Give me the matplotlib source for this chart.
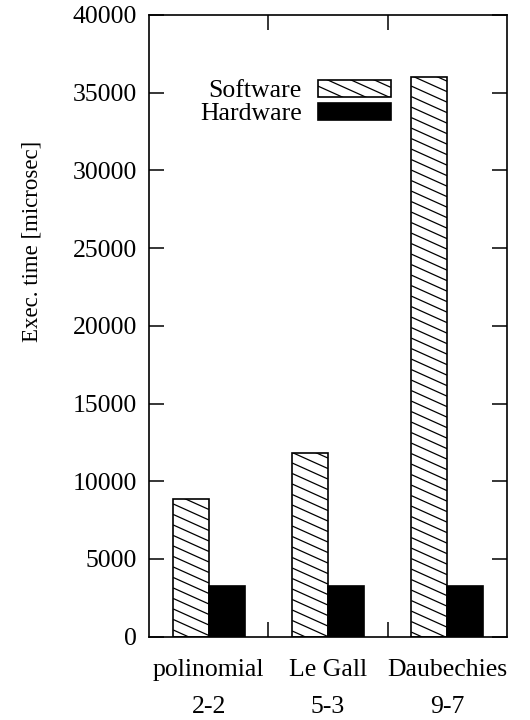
import matplotlib
matplotlib.use("Agg")
import matplotlib.pyplot as plt
import numpy as np
from matplotlib.collections import LineCollection
from matplotlib.patches import Patch
from matplotlib.transforms import IdentityTransform

plt.rcParams["font.family"] = ["Liberation Serif", "DejaVu Serif"]

methods = ["polinomial\n2-2", "Le Gall\n5-3", "Daubechies\n9-7"]
series = ["Software", "Hardware"]
software = [8850, 11850, 36000]
hardware = [3250, 3250, 3250]

fig = plt.figure(figsize=(5.3, 7.2), dpi=100)
ax = fig.add_axes([0.2817, 0.1157, 0.6743, 0.8635])

x = np.arange(len(methods))
w = 0.3
sw_bars = ax.bar(x - w / 2, software, w, color="white", edgecolor="black", linewidth=1.2)
hw_bars = ax.bar(x + w / 2, hardware, w, color="black", edgecolor="black", linewidth=1.2)

ax.set_xlim(-0.5, 2.5)
ax.set_ylim(0, 40000)
ax.set_yticks(range(0, 40001, 5000))
ax.set_xticks(x)
ax.set_xticklabels(methods, fontsize=18.5, linespacing=1.86)
ax.set_xticks([0.5, 1.5], minor=True)
ax.tick_params(axis="x", which="major", length=0, pad=16)
ax.tick_params(axis="x", which="minor", direction="in", length=11, width=1.1,
               top=True, bottom=True)
ax.tick_params(axis="y", direction="in", length=11, width=1.1, right=True,
               labelsize=18.5, pad=9)
for s in ax.spines.values():
    s.set_linewidth(1.2)

ax.set_ylabel("Exec. time [microsec]", fontsize=16.5)
ax.yaxis.set_label_coords(-0.30, 0.636)

handles = [Patch(facecolor="white", edgecolor="black", linewidth=1.2),
           Patch(facecolor="black", edgecolor="black", linewidth=1.2)]
leg = ax.legend(handles, series, loc="upper right",
                bbox_to_anchor=(390.7 / 530, 1 - 80 / 720),
                bbox_transform=fig.transFigure, frameon=False, markerfirst=False,
                fontsize=18.5, handlelength=2.84, handleheight=0.62,
                handletextpad=0.62, labelspacing=0.02, borderpad=0,
                borderaxespad=0)

fig.canvas.draw()


def add_hatch(patch, spacing=10.5, slope=0.45):
    # gnuplot-style shallow "\\" hatch, drawn in pixels and clipped to the patch
    bb = patch.get_window_extent()
    cmin = bb.y0 + slope * bb.x0
    cmax = bb.y1 + slope * bb.x1
    cs = np.arange(np.floor(cmin / spacing) * spacing, cmax + spacing, spacing)
    segs = [[(bb.x0, c - slope * bb.x0), (bb.x1, c - slope * bb.x1)] for c in cs]
    lc = LineCollection(segs, colors="black", linewidths=0.9,
                        transform=IdentityTransform())
    lc.set_clip_box(bb)
    fig.add_artist(lc)


for bar in sw_bars:
    add_hatch(bar)
add_hatch(leg.get_patches()[0])

fig.savefig("out.png", dpi=100)
